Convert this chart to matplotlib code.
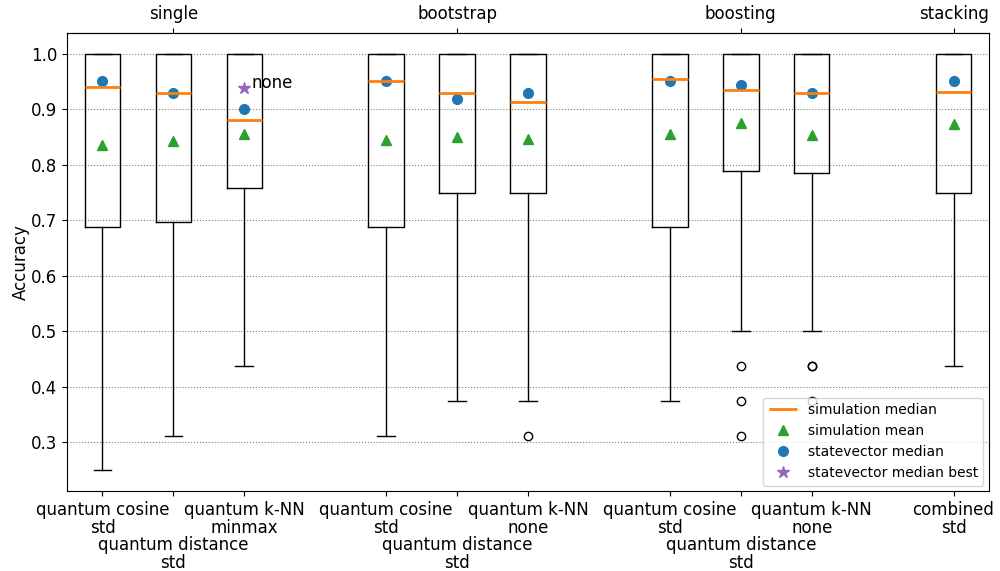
import matplotlib
matplotlib.use("Agg")
import matplotlib.pyplot as plt

# box positions and tick labels
positions = [1, 2, 3, 5, 6, 7, 9, 10, 11, 13]
tick_labels = [
    "quantum cosine\nstd", "\n\nquantum distance\nstd", "quantum k-NN\nminmax",
    "quantum cosine\nstd", "\n\nquantum distance\nstd", "quantum k-NN\nnone",
    "quantum cosine\nstd", "\n\nquantum distance\nstd", "quantum k-NN\nnone",
    "combined\nstd",
]
group_positions = [2, 6, 10, 13]
group_labels = ["single", "bootstrap", "boosting", "stacking"]

# simulation box statistics
q1 = [0.6875, 0.698, 0.758, 0.689, 0.75, 0.75, 0.689, 0.79, 0.786, 0.75]
med = [0.941, 0.929, 0.881, 0.951, 0.929, 0.914, 0.954, 0.935, 0.929, 0.932]
q3 = [1.0, 1.0, 1.0, 1.0, 1.0, 1.0, 1.0, 1.0, 1.0, 1.0]
whislo = [0.25, 0.3125, 0.4375, 0.3125, 0.375, 0.375, 0.375, 0.5, 0.5, 0.4375]
whishi = [1.0, 1.0, 1.0, 1.0, 1.0, 1.0, 1.0, 1.0, 1.0, 1.0]
fliers = [[], [], [], [], [], [0.3125], [], [0.4375, 0.375, 0.3125],
          [0.4375, 0.4375, 0.375], []]
sim_mean = [0.836, 0.844, 0.855, 0.845, 0.851, 0.846, 0.856, 0.875, 0.854, 0.873]

# statevector results
sv_median = [0.951, 0.93, 0.901, 0.951, 0.919, 0.93, 0.952, 0.944, 0.93, 0.951]
best_pos = [3]
best_value = [0.938]
best_text = ["none"]

stats = []
for i in range(len(positions)):
    stats.append({
        "q1": q1[i], "med": med[i], "q3": q3[i],
        "whislo": whislo[i], "whishi": whishi[i], "fliers": fliers[i],
    })

fig, ax = plt.subplots(figsize=(10, 5.71), dpi=100)
fig.subplots_adjust(left=0.067, right=0.989, bottom=0.14, top=0.942)

bp = ax.bxp(stats, positions=positions, widths=0.5,
            medianprops=dict(color="C1", linewidth=2))
bp["medians"][0].set_label("simulation median")

ax.plot(positions, sim_mean, "^", color="C2", markersize=7, linestyle="none",
        label="simulation mean")
ax.plot(positions, sv_median, "o", color="C0", markersize=7, linestyle="none",
        label="statevector median")
ax.plot(best_pos, best_value, "*", color="C4", markersize=9, linestyle="none",
        label="statevector median best")
for x, y, t in zip(best_pos, best_value, best_text):
    ax.annotate(t, (x, y), xytext=(5, 3.5), textcoords="offset points",
                va="center", ha="left", fontsize=12)

ax.set_xlim(0.5, 13.5)
ax.set_xticks(positions)
ax.set_xticklabels(tick_labels, fontsize=12, linespacing=0.98)
ax.tick_params(axis="y", labelsize=12)
ax.set_ylabel("Accuracy", fontsize=12, labelpad=1)
ax.yaxis.grid(True, linestyle=":", color="gray", linewidth=0.8)
ax.set_axisbelow(True)

top = ax.secondary_xaxis("top")
top.set_xticks(group_positions)
top.set_xticklabels(group_labels, fontsize=12)

ax.legend(loc="lower right", fontsize=10, borderaxespad=0.4)

plt.savefig("out.png", dpi=100)
plt.close()
